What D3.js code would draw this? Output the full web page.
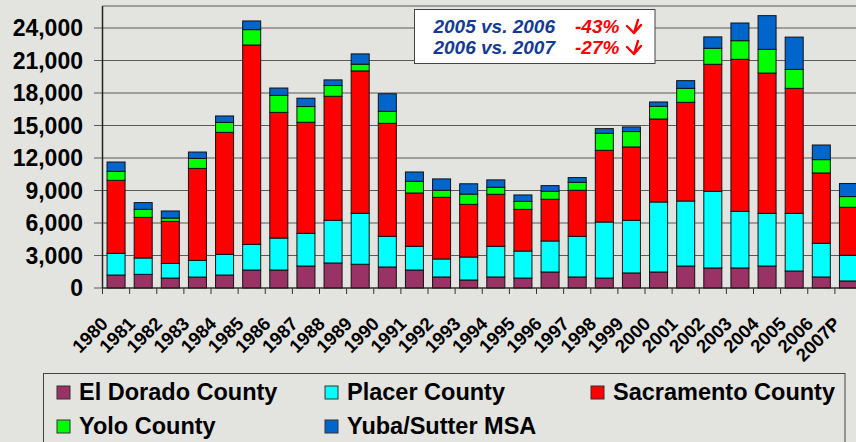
<!DOCTYPE html>
<html>
<head>
<meta charset="utf-8">
<script src="https://cdn.jsdelivr.net/npm/d3@7"></script>
<style>
    html, body { margin: 0; padding: 0; background: #e3e3df; }
    svg { display: block; font-family: "Liberation Sans", Arial, sans-serif; }
</style>
</head>
<body>
<div id="chart"></div>
<script>
const years = ["1980", "1981", "1982", "1983", "1984", "1985", "1986", "1987", "1988", "1989",
    "1990", "1991", "1992", "1993", "1994", "1995", "1996", "1997", "1998", "1999",
    "2000", "2001", "2002", "2003", "2004", "2005", "2006", "2007P"];

const elDorado   = [1200, 1260, 920, 1010, 1200, 1660, 1660, 2030, 2310, 2190, 1940, 1660, 1020, 740, 1020, 920, 1480, 1020, 920, 1390, 1480, 2030, 1850, 1850, 2030, 1570, 1020, 650];
const placer     = [2000, 1510, 1350, 1540, 1910, 2370, 2950, 3020, 3940, 4710, 2830, 2190, 1660, 2120, 2830, 2490, 2860, 3750, 5170, 4860, 6460, 6000, 7080, 5230, 4860, 5320, 3110, 2370];
const sacramento = [6740, 3750, 3880, 8490, 11260, 18400, 11600, 10250, 11450, 13140, 10430, 4920, 5690, 4860, 4800, 3850, 3850, 4250, 6620, 6770, 7660, 9110, 11720, 14030, 12950, 11540, 6490, 4430];
const yolo       = [830, 740, 310, 920, 920, 1420, 1570, 1450, 990, 620, 1110, 1080, 650, 950, 650, 740, 740, 740, 1570, 1420, 1170, 1290, 1480, 1720, 2190, 1750, 1230, 990];
const yubaSutter = [860, 620, 650, 590, 590, 800, 680, 770, 520, 950, 1620, 860, 1050, 950, 680, 590, 520, 430, 430, 430, 400, 710, 1050, 1630, 3110, 2980, 1350, 1200];

const seriesNames = ["El Dorado County", "Placer County", "Sacramento County", "Yolo County", "Yuba/Sutter MSA"];
const seriesColors = ["#993366", "#00ffff", "#ff0000", "#00ff00", "#0066cc"];
const yTicks = [0, 3000, 6000, 9000, 12000, 15000, 18000, 21000, 24000];

const compareLabels = ["2005 vs. 2006", "2006 vs. 2007"];
const compareValues = ["-43%", "-27%"];

const width = 856, height = 442;
const plot = { left: 102.5, right: 862, top: 6, bottom: 288 };

const rows = years.map((y, i) => ({
    year: y,
    "El Dorado County": elDorado[i],
    "Placer County": placer[i],
    "Sacramento County": sacramento[i],
    "Yolo County": yolo[i],
    "Yuba/Sutter MSA": yubaSutter[i]
}));

const svg = d3.select("#chart").append("svg")
    .attr("width", width)
    .attr("height", height);

svg.append("rect")
    .attr("width", width).attr("height", height)
    .attr("fill", "#e3e3df");

const x = d3.scaleBand()
    .domain(years)
    .range([plot.left, plot.right])
    .paddingInner(0.336)
    .paddingOuter(0.168);

const y = d3.scaleLinear()
    .domain([0, 24000])
    .range([plot.bottom, 28]);

const color = d3.scaleOrdinal().domain(seriesNames).range(seriesColors);

// grid lines + y ticks
svg.append("g")
    .selectAll("line")
    .data(yTicks)
    .join("line")
    .attr("x1", 94).attr("x2", plot.right)
    .attr("y1", d => y(d)).attr("y2", d => y(d))
    .attr("stroke", "#5a5a5a")
    .attr("stroke-width", 1.2);

// top border of plot area
svg.append("line")
    .attr("x1", plot.left).attr("x2", plot.right)
    .attr("y1", plot.top).attr("y2", plot.top)
    .attr("stroke", "#5a5a5a")
    .attr("stroke-width", 1.2);

svg.append("g")
    .selectAll("text")
    .data(yTicks)
    .join("text")
    .attr("x", 83)
    .attr("y", d => y(d))
    .attr("dy", "0.36em")
    .attr("text-anchor", "end")
    .attr("font-size", 23)
    .attr("font-weight", "bold")
    .attr("fill", "#000")
    .text(d => d3.format(",")(d));

// stacked bars
const stacked = d3.stack().keys(seriesNames)(rows);

svg.append("g")
    .selectAll("g")
    .data(stacked)
    .join("g")
    .attr("fill", d => color(d.key))
    .selectAll("rect")
    .data(d => d)
    .join("rect")
    .attr("x", d => x(d.data.year))
    .attr("y", d => y(d[1]))
    .attr("width", x.bandwidth())
    .attr("height", d => y(d[0]) - y(d[1]))
    .attr("stroke", "#111")
    .attr("stroke-width", 1);

// x axis line and category ticks
svg.append("line")
    .attr("x1", plot.left).attr("x2", plot.right)
    .attr("y1", plot.bottom).attr("y2", plot.bottom)
    .attr("stroke", "#222").attr("stroke-width", 1.2);

svg.append("line")
    .attr("x1", plot.left).attr("x2", plot.left)
    .attr("y1", plot.top).attr("y2", plot.bottom)
    .attr("stroke", "#222").attr("stroke-width", 1.5);

const step = x.step();
svg.append("g")
    .selectAll("line")
    .data(d3.range(years.length + 1))
    .join("line")
    .attr("x1", i => plot.left + i * step).attr("x2", i => plot.left + i * step)
    .attr("y1", plot.bottom).attr("y2", plot.bottom + 6)
    .attr("stroke", "#333").attr("stroke-width", 1);

svg.append("g")
    .selectAll("text")
    .data(years)
    .join("text")
    .attr("transform", d => `translate(${x(d) + x.bandwidth() / 2 - 7},${plot.bottom + 37}) rotate(-45)`)
    .attr("text-anchor", "end")
    .attr("font-size", 18.5)
    .attr("font-weight", "bold")
    .attr("fill", "#000")
    .text(d => d);

// comparison box
const box = svg.append("g");
box.append("rect")
    .attr("x", 414.5).attr("y", 9.5)
    .attr("width", 240.5).attr("height", 54)
    .attr("fill", "#fff")
    .attr("stroke", "#444").attr("stroke-width", 1);

compareLabels.forEach((label, i) => {
    const by = 33 + i * 21;
    box.append("text")
        .attr("x", 555).attr("y", by)
        .attr("text-anchor", "end")
        .attr("font-size", 19).attr("font-weight", "bold").attr("font-style", "italic")
        .attr("fill", "#133b96")
        .text(label);
    box.append("text")
        .attr("x", 575).attr("y", by)
        .attr("font-size", 19).attr("font-weight", "bold").attr("font-style", "italic")
        .attr("fill", "#ff0000")
        .text(compareValues[i]);
    box.append("path")
        .attr("d", `M638,${by - 13} L634,${by} M627,${by - 7} L634,${by} L641,${by - 8}`)
        .attr("fill", "none")
        .attr("stroke", "#ff0000")
        .attr("stroke-width", 2.4)
        .attr("stroke-linecap", "round")
        .attr("stroke-linejoin", "round");
});

// legend
const legend = svg.append("g");
legend.append("rect")
    .attr("x", 43.5).attr("y", 373.5)
    .attr("width", 801.5).attr("height", 100)
    .attr("fill", "none")
    .attr("stroke", "#444").attr("stroke-width", 1);

const legendPos = [
    { x: 57, y: 386 }, { x: 325, y: 386 }, { x: 591, y: 386 },
    { x: 57, y: 420 }, { x: 325, y: 420 }
];

const items = legend.selectAll("g.item")
    .data(seriesNames)
    .join("g")
    .attr("class", "item")
    .attr("transform", (d, i) => `translate(${legendPos[i].x},${legendPos[i].y})`);

items.append("rect")
    .attr("width", 13).attr("height", 13)
    .attr("fill", d => color(d))
    .attr("stroke", "#333").attr("stroke-width", 1);

items.append("text")
    .attr("x", 22).attr("y", 13.5)
    .attr("font-size", 23.5)
    .attr("font-weight", "bold")
    .attr("fill", "#000")
    .text(d => d);
</script>
</body>
</html>
